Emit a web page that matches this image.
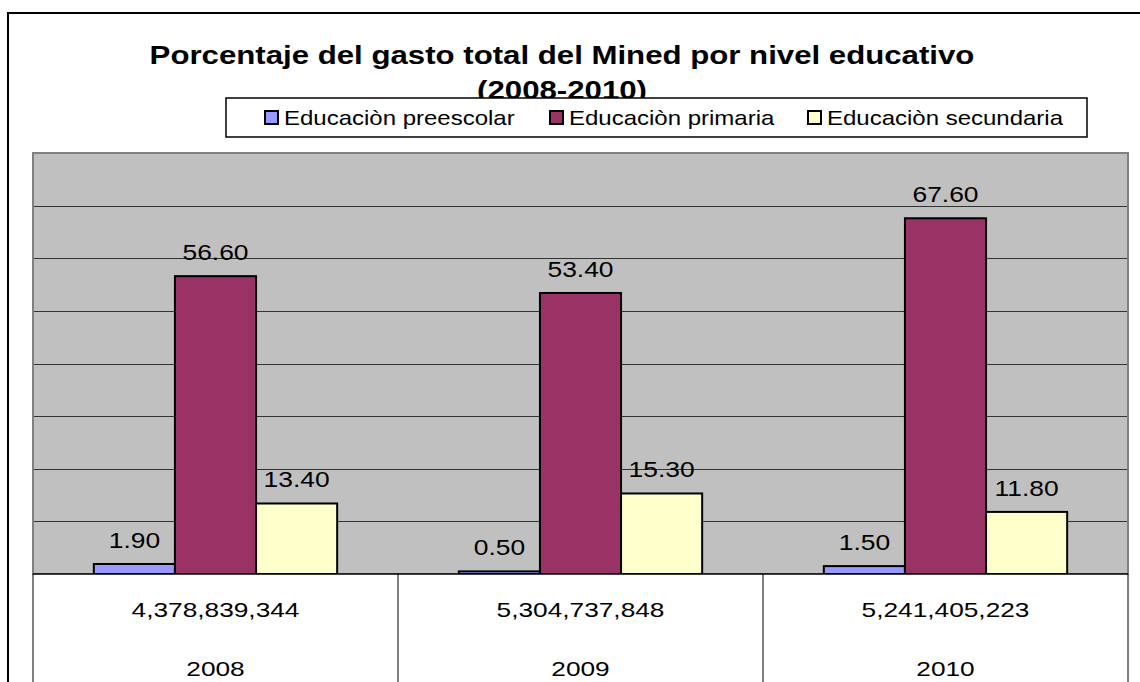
<!DOCTYPE html>
<html>
<head>
<meta charset="utf-8">
<script src="https://cdn.jsdelivr.net/npm/d3@7"></script>
<style>
  body { margin: 0; background: #fff; }
  text { font-family: "Liberation Sans", Arial, sans-serif; fill: #000; }
</style>
</head>
<body>
<div id="chart"></div>
<script>
// data
const years = ['2008', '2009', '2010'];
const totals = [4378839344, 5304737848, 5241405223];
const seriesNames = ['Educaciòn preescolar', 'Educaciòn primaria', 'Educaciòn secundaria'];
const preescolar = [1.9, 0.5, 1.5];
const primaria = [56.6, 53.4, 67.6];
const secundaria = [13.4, 15.3, 11.8];
const seriesColors = ['#9999ff', '#993366', '#ffffcc'];
const yTicks = [0, 10, 20, 30, 40, 50, 60, 70, 80];

const width = 1140;
const height = 682;
const plot = { left: 33, right: 1128, top: 153, bottom: 574 };
// the original picture is stretched sideways, so text is too
const stretch = 1.2;

const svg = d3
  .select('#chart')
  .append('svg')
  .attr('width', width)
  .attr('height', height);

// places a text at (tx, ty) widened by a stretch factor
const placeText = (sel, tx, ty, k = stretch) =>
  sel.attr('transform', (d, i) => `translate(${tx(d, i)},${ty(d, i)}) scale(${k},1)`);

// outer frame
svg
  .append('rect')
  .attr('x', 8)
  .attr('y', 13)
  .attr('width', 1160)
  .attr('height', 700)
  .attr('fill', '#fff')
  .attr('stroke', '#000')
  .attr('stroke-width', 2);

const x = d3
  .scaleBand()
  .domain(years)
  .range([plot.left, plot.right]);

const xInner = d3
  .scaleBand()
  .domain(seriesNames)
  .range([x.bandwidth() / 6, (x.bandwidth() * 5) / 6]);

const y = d3
  .scaleLinear()
  .domain([0, 80])
  .range([plot.bottom, plot.top]);

// plot area
svg
  .append('rect')
  .attr('x', plot.left)
  .attr('y', plot.top)
  .attr('width', plot.right - plot.left)
  .attr('height', plot.bottom - plot.top)
  .attr('fill', '#c0c0c0');

svg
  .append('g')
  .selectAll('line')
  .data(yTicks.slice(1, -1))
  .enter()
  .append('line')
  .attr('x1', plot.left)
  .attr('x2', plot.right)
  .attr('y1', (d) => Math.round(y(d)) + 0.5)
  .attr('y2', (d) => Math.round(y(d)) + 0.5)
  .attr('stroke', '#333')
  .attr('stroke-width', 1);

svg
  .append('rect')
  .attr('x', plot.left)
  .attr('y', plot.top)
  .attr('width', plot.right - plot.left)
  .attr('height', plot.bottom - plot.top)
  .attr('fill', 'none')
  .attr('stroke', '#808080')
  .attr('stroke-width', 2);

// bars
const rows = years.map((yr, i) => ({
  year: yr,
  values: [preescolar[i], primaria[i], secundaria[i]],
}));

const groups = svg
  .selectAll('.group')
  .data(rows)
  .enter()
  .append('g')
  .attr('class', 'group')
  .attr('transform', (d) => `translate(${x(d.year)},0)`);

const bars = groups
  .selectAll('.bar')
  .data((d) => d.values.map((v, j) => ({ name: seriesNames[j], value: v, color: seriesColors[j] })))
  .enter();

bars
  .append('rect')
  .attr('x', (d) => xInner(d.name))
  .attr('y', (d) => y(d.value))
  .attr('width', xInner.bandwidth())
  .attr('height', (d) => y(0) - y(d.value))
  .attr('fill', (d) => d.color)
  .attr('stroke', '#000')
  .attr('stroke-width', 2);

bars
  .append('text')
  .call(placeText, (d) => xInner(d.name) + xInner.bandwidth() / 2, (d) => y(d.value) - 16)
  .attr('text-anchor', 'middle')
  .style('font-size', '22px')
  .text((d) => d3.format('.2f')(d.value));

// data table under the plot
const table = svg.append('g');

table
  .append('rect')
  .attr('x', plot.left)
  .attr('y', plot.bottom)
  .attr('width', plot.right - plot.left)
  .attr('height', height - plot.bottom + 10)
  .attr('fill', '#fff');

table
  .selectAll('line')
  .data(d3.range(years.length + 1))
  .enter()
  .append('line')
  .attr('x1', (i) => plot.left + i * x.bandwidth())
  .attr('x2', (i) => plot.left + i * x.bandwidth())
  .attr('y1', plot.bottom)
  .attr('y2', height + 5)
  .attr('stroke', '#000')
  .attr('stroke-width', 1);

svg
  .append('line')
  .attr('x1', plot.left)
  .attr('x2', plot.right)
  .attr('y1', plot.bottom)
  .attr('y2', plot.bottom)
  .attr('stroke', '#000')
  .attr('stroke-width', 1.5);

table
  .selectAll('.total')
  .data(years)
  .enter()
  .append('text')
  .attr('class', 'total')
  .call(placeText, (d) => x(d) + x.bandwidth() / 2, () => 617, 1.25)
  .attr('text-anchor', 'middle')
  .style('font-size', '21px')
  .text((d, i) => d3.format(',')(totals[i]));

table
  .selectAll('.year')
  .data(years)
  .enter()
  .append('text')
  .attr('class', 'year')
  .call(placeText, (d) => x(d) + x.bandwidth() / 2, () => 676, 1.25)
  .attr('text-anchor', 'middle')
  .style('font-size', '21px')
  .text((d) => d);

// title
const titleLines = ['Porcentaje del gasto total del Mined por nivel educativo', '(2008-2010)'];
svg
  .selectAll('.title')
  .data(titleLines)
  .enter()
  .append('text')
  .attr('class', 'title')
  .call(placeText, () => 562, (d, i) => 64 + i * 35)
  .attr('text-anchor', 'middle')
  .style('font-size', '26px')
  .style('font-weight', 'bold')
  .text((d) => d);

// legend
const legend = svg.append('g');

legend
  .append('rect')
  .attr('x', 226)
  .attr('y', 98)
  .attr('width', 861)
  .attr('height', 39)
  .attr('fill', '#fff')
  .attr('stroke', '#000')
  .attr('stroke-width', 1.5);

const legendX = [265, 550, 808];
const legendItems = legend
  .selectAll('.legend-item')
  .data(seriesNames)
  .enter()
  .append('g')
  .attr('class', 'legend-item')
  .attr('transform', (d, i) => `translate(${legendX[i]},111)`);

legendItems
  .append('rect')
  .attr('x', 0)
  .attr('y', 0)
  .attr('width', 13)
  .attr('height', 13)
  .attr('fill', (d, i) => seriesColors[i])
  .attr('stroke', '#000')
  .attr('stroke-width', 2);

legendItems
  .append('text')
  .call(placeText, () => 19, () => 14)
  .style('font-size', '20px')
  .text((d) => d);
</script>
</body>
</html>
